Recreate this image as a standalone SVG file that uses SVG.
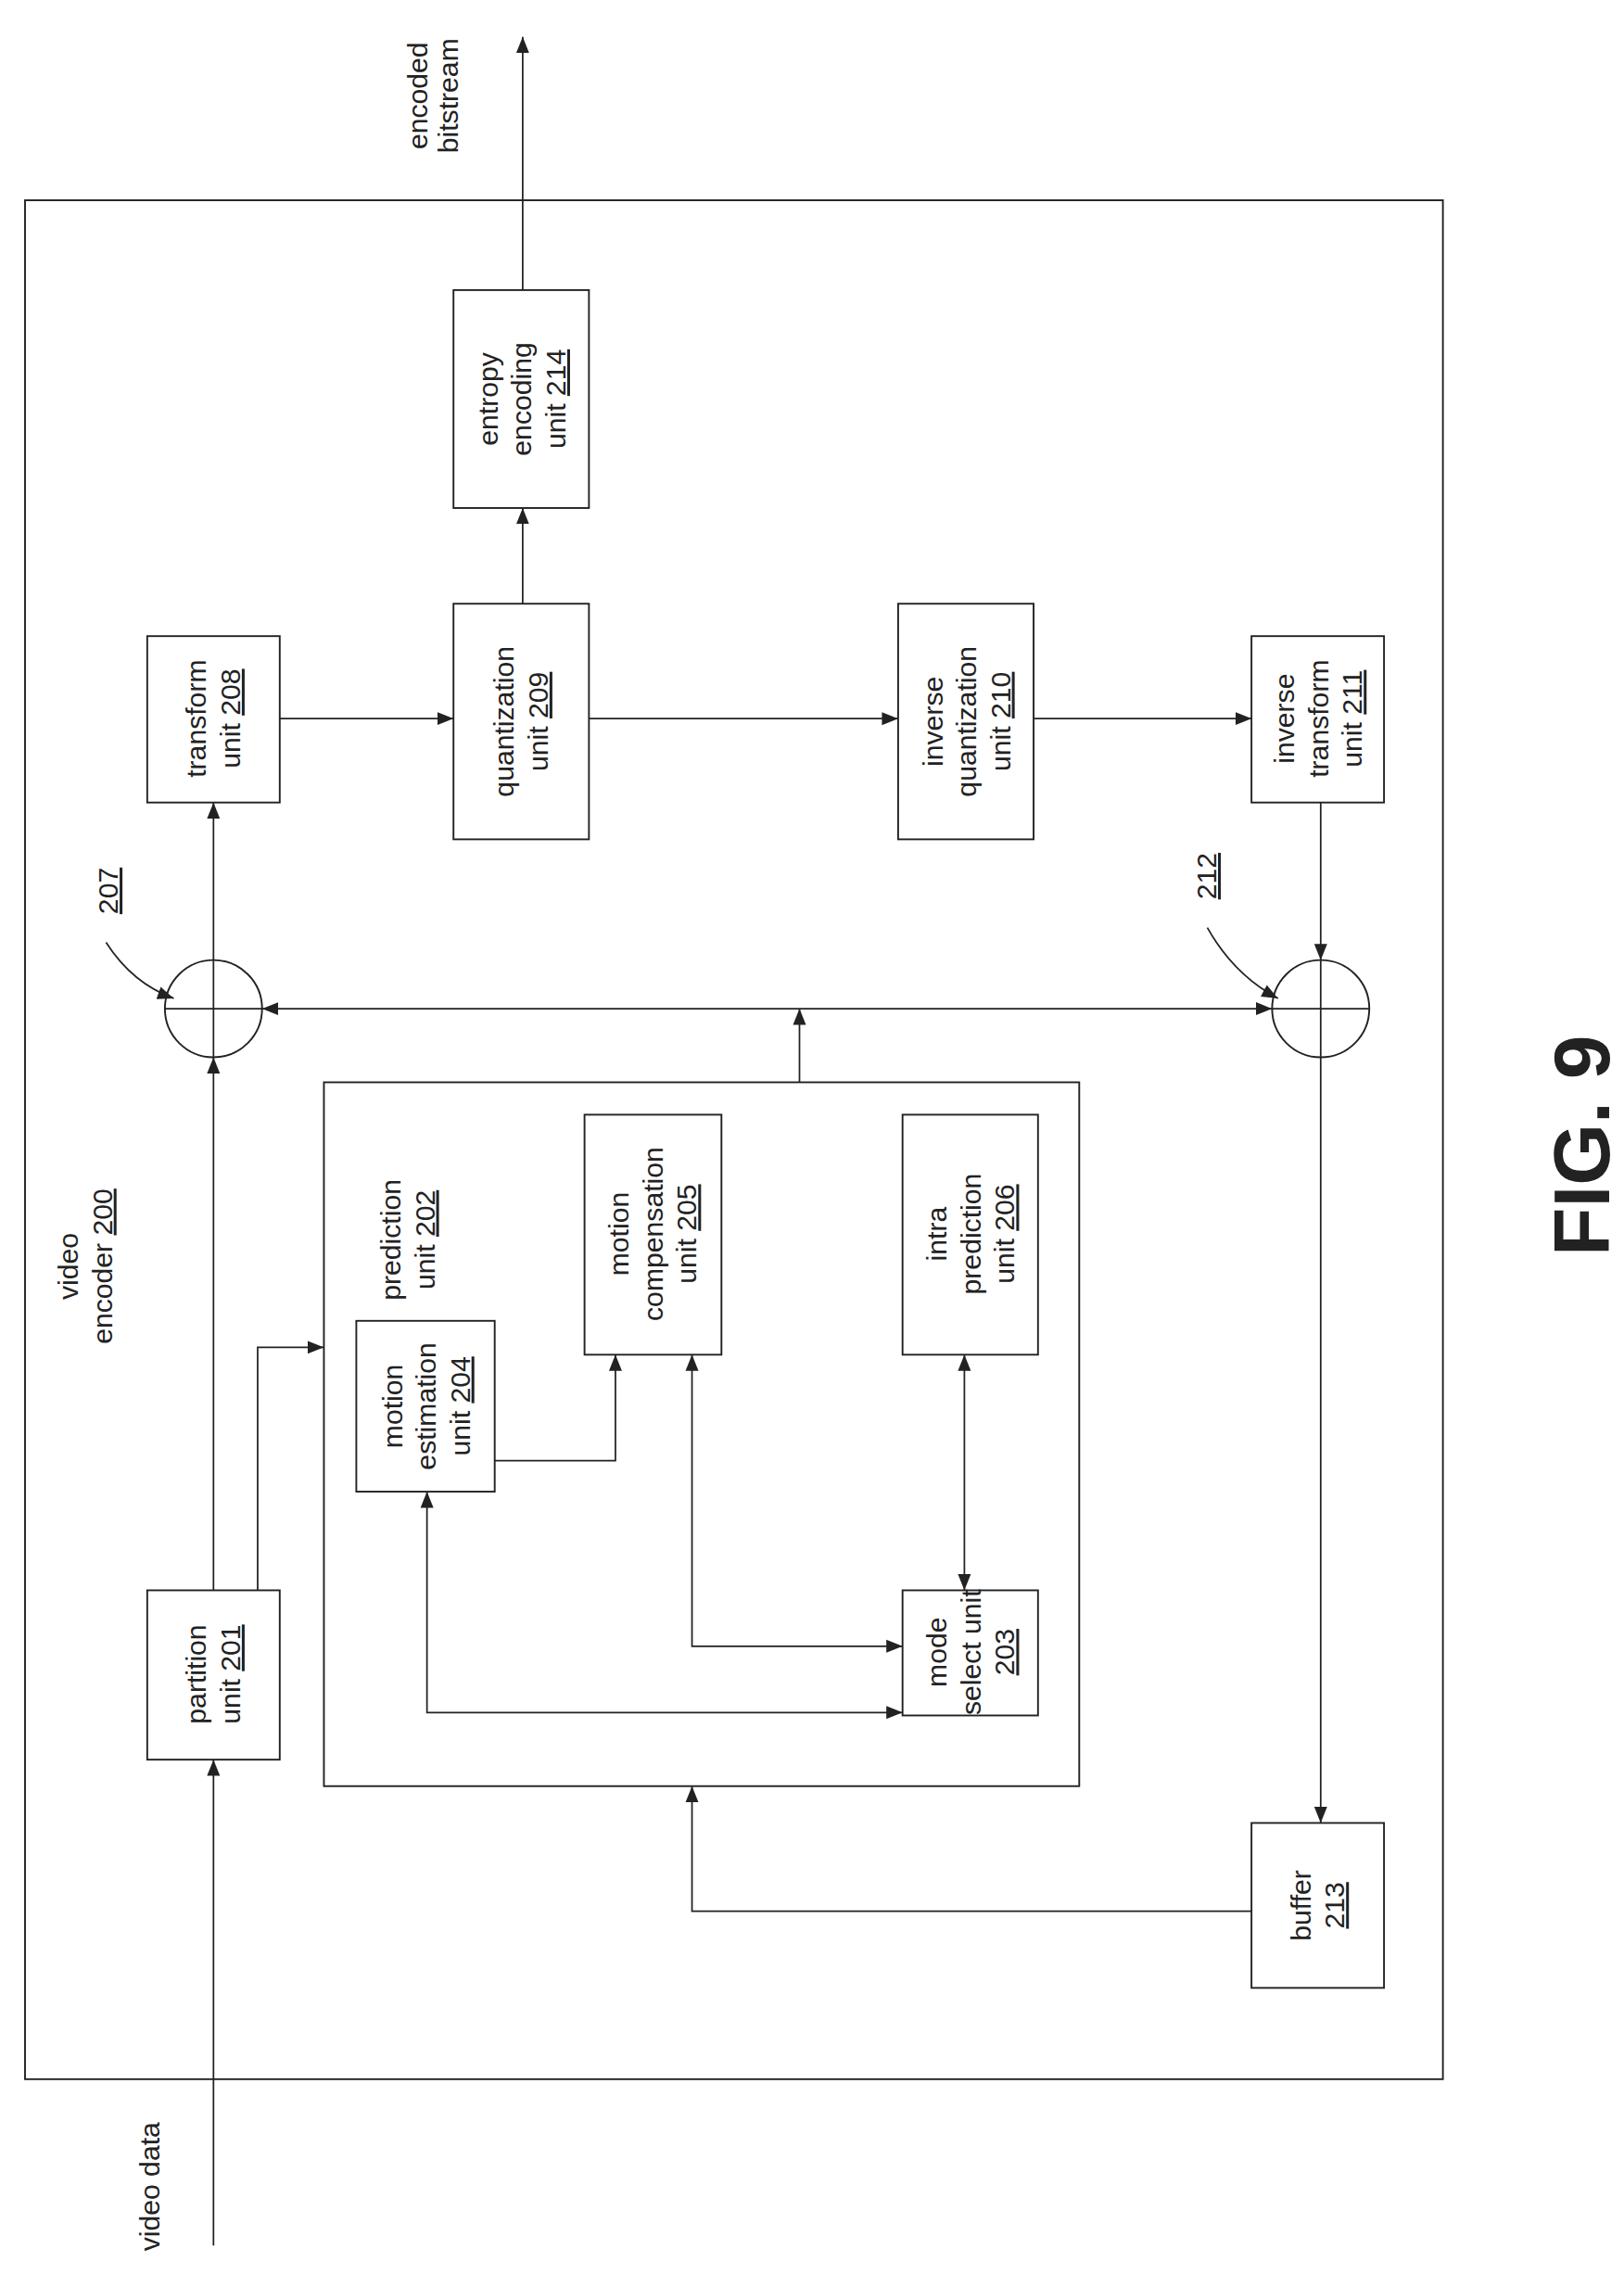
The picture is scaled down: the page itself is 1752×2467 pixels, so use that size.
<svg xmlns="http://www.w3.org/2000/svg" width="1752" height="2467" viewBox="0 0 1752 2467">
<style>
.b{fill:none;stroke:#222;stroke-width:1.2}
.l{fill:none;stroke:#222;stroke-width:1.1}
.t{font-family:"Liberation Sans",Arial,sans-serif;font-size:19px;fill:#222;text-anchor:middle}
.u{text-decoration:underline}
</style>
<defs>
<marker id="a" viewBox="0 0 10 10" refX="10" refY="5" markerWidth="11" markerHeight="11" markerUnits="userSpaceOnUse" orient="auto-start-reverse"><path d="M0,1 L10,5 L0,9 Z" fill="#222"/></marker>
</defs>
<rect width="1752" height="2467" fill="#fff"/>
<g transform="scale(1.5884)">
<rect id="encoder" class="b" x="17" y="136" width="963" height="1276"/>
<g id="labels">
<text class="t" transform="translate(295,65) rotate(-90)"><tspan x="0" dy="-5">encoded</tspan><tspan x="0" dy="21">bitstream</tspan></text>
<text class="t" transform="translate(108,1485) rotate(-90)"><tspan x="0" dy="0">video data</tspan></text>
<text class="t" transform="translate(58,860) rotate(-90)"><tspan x="0" dy="-5">video</tspan><tspan x="0" dy="23">encoder <tspan class="u">200</tspan></tspan></text>
<text class="t" transform="translate(80,605) rotate(-90)"><tspan class="u">207</tspan></text>
<text class="t" transform="translate(826,595) rotate(-90)"><tspan class="u">212</tspan></text>
<text transform="translate(1093,778) rotate(-90)" style="font-family:'Liberation Sans',Arial,sans-serif;font-size:54px;font-weight:bold;fill:#222;text-anchor:middle">FIG. 9</text>
</g>
<g id="n214"><rect class="b" x="308" y="197" width="92" height="148"/><text class="t" transform="translate(354,271) rotate(-90)"><tspan x="0" dy="-16">entropy</tspan><tspan x="0" dy="23">encoding</tspan><tspan x="0" dy="23">unit <tspan class="u">214</tspan></tspan></text></g>
<g id="n208"><rect class="b" x="100" y="432" width="90" height="113"/><text class="t" transform="translate(145,488) rotate(-90)"><tspan x="0" dy="-5">transform</tspan><tspan x="0" dy="23">unit <tspan class="u">208</tspan></tspan></text></g>
<g id="n209"><rect class="b" x="308" y="410" width="92" height="160"/><text class="t" transform="translate(354,490) rotate(-90)"><tspan x="0" dy="-5">quantization</tspan><tspan x="0" dy="23">unit <tspan class="u">209</tspan></tspan></text></g>
<g id="n210"><rect class="b" x="610" y="410" width="92" height="160"/><text class="t" transform="translate(656,490) rotate(-90)"><tspan x="0" dy="-16">inverse</tspan><tspan x="0" dy="23">quantization</tspan><tspan x="0" dy="23">unit <tspan class="u">210</tspan></tspan></text></g>
<g id="n211"><rect class="b" x="850" y="432" width="90" height="113"/><text class="t" transform="translate(895,488) rotate(-90)"><tspan x="0" dy="-16">inverse</tspan><tspan x="0" dy="23">transform</tspan><tspan x="0" dy="23">unit <tspan class="u">211</tspan></tspan></text></g>
<g id="n207"><ellipse class="b" cx="145" cy="685" rx="33" ry="33"/><path class="l" d="M112,685H178M145,652V718"/></g>
<g id="n212"><ellipse class="b" cx="897" cy="685" rx="33" ry="33"/><path class="l" d="M864,685H930M897,652V718"/></g>
<g id="n202"><rect class="b" x="220" y="735" width="513" height="478"/><text class="t" transform="translate(277,842) rotate(-90)"><tspan x="0" dy="-5">prediction</tspan><tspan x="0" dy="23">unit <tspan class="u">202</tspan></tspan></text></g>
<g id="n204"><rect class="b" x="242" y="897" width="94" height="116"/><text class="t" transform="translate(289,955) rotate(-90)"><tspan x="0" dy="-16">motion</tspan><tspan x="0" dy="23">estimation</tspan><tspan x="0" dy="23">unit <tspan class="u">204</tspan></tspan></text></g>
<g id="n205"><rect class="b" x="397" y="757" width="93" height="163"/><text class="t" transform="translate(443,838) rotate(-90)"><tspan x="0" dy="-16">motion</tspan><tspan x="0" dy="23">compensation</tspan><tspan x="0" dy="23">unit <tspan class="u">205</tspan></tspan></text></g>
<g id="n206"><rect class="b" x="613" y="757" width="92" height="163"/><text class="t" transform="translate(659,838) rotate(-90)"><tspan x="0" dy="-16">intra</tspan><tspan x="0" dy="23">prediction</tspan><tspan x="0" dy="23">unit <tspan class="u">206</tspan></tspan></text></g>
<g id="n203"><rect class="b" x="613" y="1080" width="92" height="85"/><text class="t" transform="translate(659,1122) rotate(-90)"><tspan x="0" dy="-16">mode</tspan><tspan x="0" dy="23">select unit</tspan><tspan x="0" dy="23" class="u">203</tspan></text></g>
<g id="n201"><rect class="b" x="100" y="1080" width="90" height="115"/><text class="t" transform="translate(145,1137) rotate(-90)"><tspan x="0" dy="-5">partition</tspan><tspan x="0" dy="23">unit <tspan class="u">201</tspan></tspan></text></g>
<g id="n213"><rect class="b" x="850" y="1238" width="90" height="112"/><text class="t" transform="translate(895,1294) rotate(-90)"><tspan x="0" dy="-5">buffer</tspan><tspan x="0" dy="23" class="u">213</tspan></text></g>
<g id="connectors">
<path class="l" d="M355,197V25" marker-end="url(#a)"/>
<path class="l" d="M355,410V345" marker-end="url(#a)"/>
<path class="l" d="M190,488H308" marker-end="url(#a)"/>
<path class="l" d="M400,488H610" marker-end="url(#a)"/>
<path class="l" d="M702,488H850" marker-end="url(#a)"/>
<path class="l" d="M145,652V545" marker-end="url(#a)"/>
<path class="l" d="M145,1080V718" marker-end="url(#a)"/>
<path class="l" d="M145,1525V1195" marker-end="url(#a)"/>
<path class="l" d="M178,685H864" marker-start="url(#a)" marker-end="url(#a)"/>
<path class="l" d="M543,735V685" marker-end="url(#a)"/>
<path class="l" d="M897,545V652" marker-end="url(#a)"/>
<path class="l" d="M897,718V1238" marker-end="url(#a)"/>
<path class="l" d="M175,1080V915H220" marker-end="url(#a)"/>
<path class="l" d="M336,992H418V920" marker-end="url(#a)"/>
<path class="l" d="M290,1013V1163H613" marker-start="url(#a)" marker-end="url(#a)"/>
<path class="l" d="M470,920V1118H613" marker-start="url(#a)" marker-end="url(#a)"/>
<path class="l" d="M655,920V1080" marker-start="url(#a)" marker-end="url(#a)"/>
<path class="l" d="M850,1298H470V1213" marker-end="url(#a)"/>
<path class="l" d="M72,640Q90,668 118,678" marker-end="url(#a)"/>
<path class="l" d="M820,630Q838,662 868,678" marker-end="url(#a)"/>
</g>
</g>
</svg>
